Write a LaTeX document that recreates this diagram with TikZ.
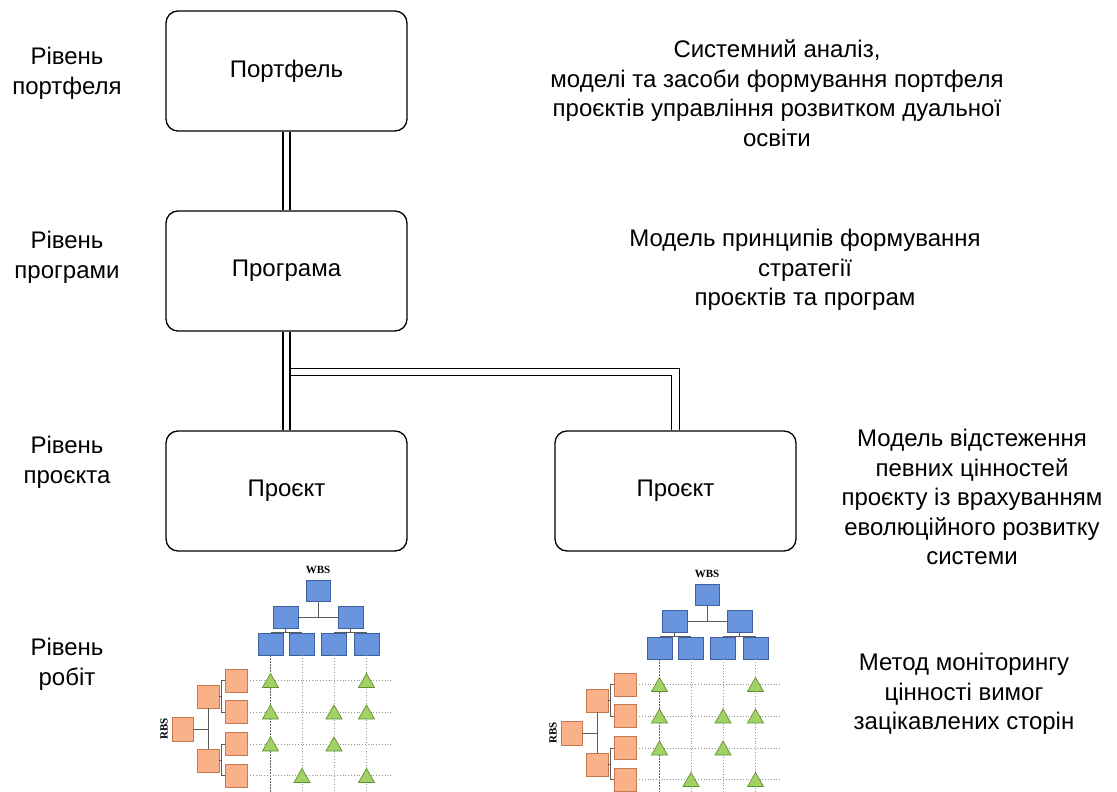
\documentclass[tikz,border=0pt]{standalone}
\usepackage{fontspec}
\setmainfont{Liberation Sans}
\newfontfamily\wbsfont{Liberation Serif}
\usetikzlibrary{calc}

\definecolor{wbsfill}{RGB}{104,149,222}
\definecolor{wbsline}{RGB}{62,96,160}
\definecolor{rbsfill}{RGB}{250,176,136}
\definecolor{rbsline}{RGB}{196,120,78}
\definecolor{trifill}{RGB}{162,210,102}
\definecolor{triline}{RGB}{98,146,48}
\definecolor{gridgray}{RGB}{150,150,150}
\definecolor{linkgray}{RGB}{90,90,90}

\tikzset{
  levelbox/.style={draw, line width=1.3pt, rounded corners=12pt,
    minimum width=241pt, minimum height=120pt, inner sep=0pt,
    font=\fontsize{24}{28}\selectfont},
  leveltext/.style={align=center, inner sep=0pt,
    font=\fontsize{24}{30}\selectfont},
  desctext/.style={align=center, inner sep=0pt,
    font=\fontsize{24}{29.5}\selectfont},
  link/.style={line width=1.2pt},
  wbsbox/.style={draw=wbsline, fill=wbsfill, line width=0.8pt,
    minimum width=24pt, minimum height=21pt, inner sep=0pt},
  rbsbox/.style={draw=rbsline, fill=rbsfill, line width=0.8pt,
    minimum width=22pt, minimum height=23pt, inner sep=0pt},
  treeline/.style={draw=linkgray, line width=0.9pt},
  gridline/.style={draw=gridgray, line width=0.8pt, dotted},
  smalllabel/.style={font=\wbsfont\fontsize{11}{11}\selectfont\bfseries, inner sep=0pt},
  tri/.pic={\draw[draw=triline, fill=trifill, line width=0.7pt]
    (-8,7) -- (8,7) -- (0,-7) -- cycle;},
  wbsrbs/.pic={
    % work breakdown structure
    \node[smalllabel] (lbl) at (318,570) {WBS};
    \node[wbsbox] (w0) at (318,591) {};
    \node[wbsbox, minimum width=25pt, minimum height=22pt] (w1) at (285.5,617) {};
    \node[wbsbox, minimum width=25pt, minimum height=22pt] (w2) at (350.5,617) {};
    \node[wbsbox, minimum width=25pt, minimum height=22pt] (w3) at (270.5,644) {};
    \node[wbsbox, minimum width=25pt, minimum height=22pt] (w4) at (302,644) {};
    \node[wbsbox, minimum width=25pt, minimum height=22pt] (w5) at (334,644) {};
    \node[wbsbox, minimum width=25pt, minimum height=22pt] (w6) at (366.5,644) {};
    \draw[treeline] (w0.south) -- (w0.south |- w1.east);
    \draw[treeline] (w1.east) -- (w2.west);
    \draw[treeline] (w1.south) -- (w1.south |- w3.north);
    \draw[treeline] (w3.north) -- (w4.north);
    \draw[treeline] (w2.south) -- (w2.south |- w5.north);
    \draw[treeline] (w5.north) -- (w6.north);
    % resource breakdown structure
    \node[smalllabel, rotate=90] (rlbl) at (164,729) {RBS};
    \node[rbsbox, minimum width=21pt, minimum height=24pt] (r0) at (182.5,729) {};
    \node[rbsbox] (r1) at (208,696.5) {};
    \node[rbsbox] (r2) at (208,760.5) {};
    \node[rbsbox] (r3) at (236,680.5) {};
    \node[rbsbox] (r4) at (236,712) {};
    \node[rbsbox] (r5) at (236,744) {};
    \node[rbsbox] (r6) at (236,775.5) {};
    \draw[treeline] (r0.east) -- (r0.east -| r1.south);
    \draw[treeline] (r1.south) -- (r2.north);
    \draw[treeline] (r1.east) -- ++(3,0);
    \draw[treeline] (r3.west) -- ++(-3,0) |- (r4.west);
    \draw[treeline] (r2.east) -- ++(3,0);
    \draw[treeline] (r5.west) -- ++(-3,0) |- (r6.west);
    % responsibility grid
    \coordinate (bot) at (0,792);
    \coordinate (gend) at (392,0);
    \draw[gridline, draw=linkgray, dashed, dash pattern=on 2pt off 1pt] (w3.south) -- (w3.south |- bot);
    \draw[gridline] (w4.south) -- (w4.south |- bot);
    \draw[gridline] (w5.south) -- (w5.south |- bot);
    \draw[gridline] (w6.south) -- (w6.south |- bot);
    \draw[gridline] (r3.east) -- (r3.east -| gend);
    \draw[gridline] (r4.east) -- (r4.east -| gend);
    \draw[gridline] (r5.east) -- (r5.east -| gend);
    \draw[gridline] (r6.east) -- (r6.east -| gend);
    \pic at (w3.south |- r3.east) {tri};
    \pic at (w6.south |- r3.east) {tri};
    \pic at (w3.south |- r4.east) {tri};
    \pic at (w5.south |- r4.east) {tri};
    \pic at (w6.south |- r4.east) {tri};
    \pic at (w3.south |- r5.east) {tri};
    \pic at (w5.south |- r5.east) {tri};
    \pic at (w4.south |- r6.east) {tri};
    \pic at (w6.south |- r6.east) {tri};
  }
}

\begin{document}
\begin{tikzpicture}[x=1pt, y=-1pt]
  \useasboundingbox[fill=white] (0,0) rectangle (1117,792);

  % level labels
  \node[leveltext] (lv1) at (67,73) {Рівень\\портфеля};
  \node[leveltext] (lv2) at (67,257) {Рівень\\програми};
  \node[leveltext] (lv3) at (67,462) {Рівень\\проєкта};
  \node[leveltext] (lv4) at (67,664) {Рівень\\робіт};

  % hierarchy boxes
  \node[levelbox] (port) at (286.5,71) {Портфель};
  \node[levelbox] (prog) at (286.5,271) {Програма};
  \node[levelbox] (projA) at (286.5,491) {Проєкт};
  \node[levelbox] (projB) at (675.5,491) {Проєкт};

  % double connectors
  \draw[link] ($(port.south)+(-3.5,0)$) -- ($(prog.north)+(-3.5,0)$);
  \draw[link] ($(port.south)+(3.5,0)$) -- ($(prog.north)+(3.5,0)$);
  \draw[link] ($(prog.south)+(-3.5,0)$) -- ($(projA.north)+(-3.5,0)$);
  \draw[link] ($(prog.south)+(3.5,0)$) -- ($(projA.north)+(3.5,0)$);
  \draw[link] ($(prog.south)+(3.5,37)$) -| ($(projB.north)+(4,0)$);
  \draw[link] ($(prog.south)+(3.5,44)$) -| ($(projB.north)+(-4,0)$);

  % descriptions
  \node[desctext] (d1) at (777,93) {Системний аналіз,\\моделі та засоби формування портфеля\\проєктів управління розвитком дуальної\\освіти};
  \node[desctext] (d2) at (805,270) {Модель принципів формування\\стратегії\\проєктів та програм};
  \node[desctext] (d3) at (972,497) {Модель відстеження\\певних цінностей\\проєкту із врахуванням\\еволюційного розвитку\\системи};
  \node[desctext] (d4) at (964,694) {Метод моніторингу\\цінності вимог\\зацікавлених сторін};

  % work level matrices
  \pic (L) at (0,0) {wbsrbs};
  \pic (R) at (389,4) {wbsrbs};
\end{tikzpicture}
\end{document}
